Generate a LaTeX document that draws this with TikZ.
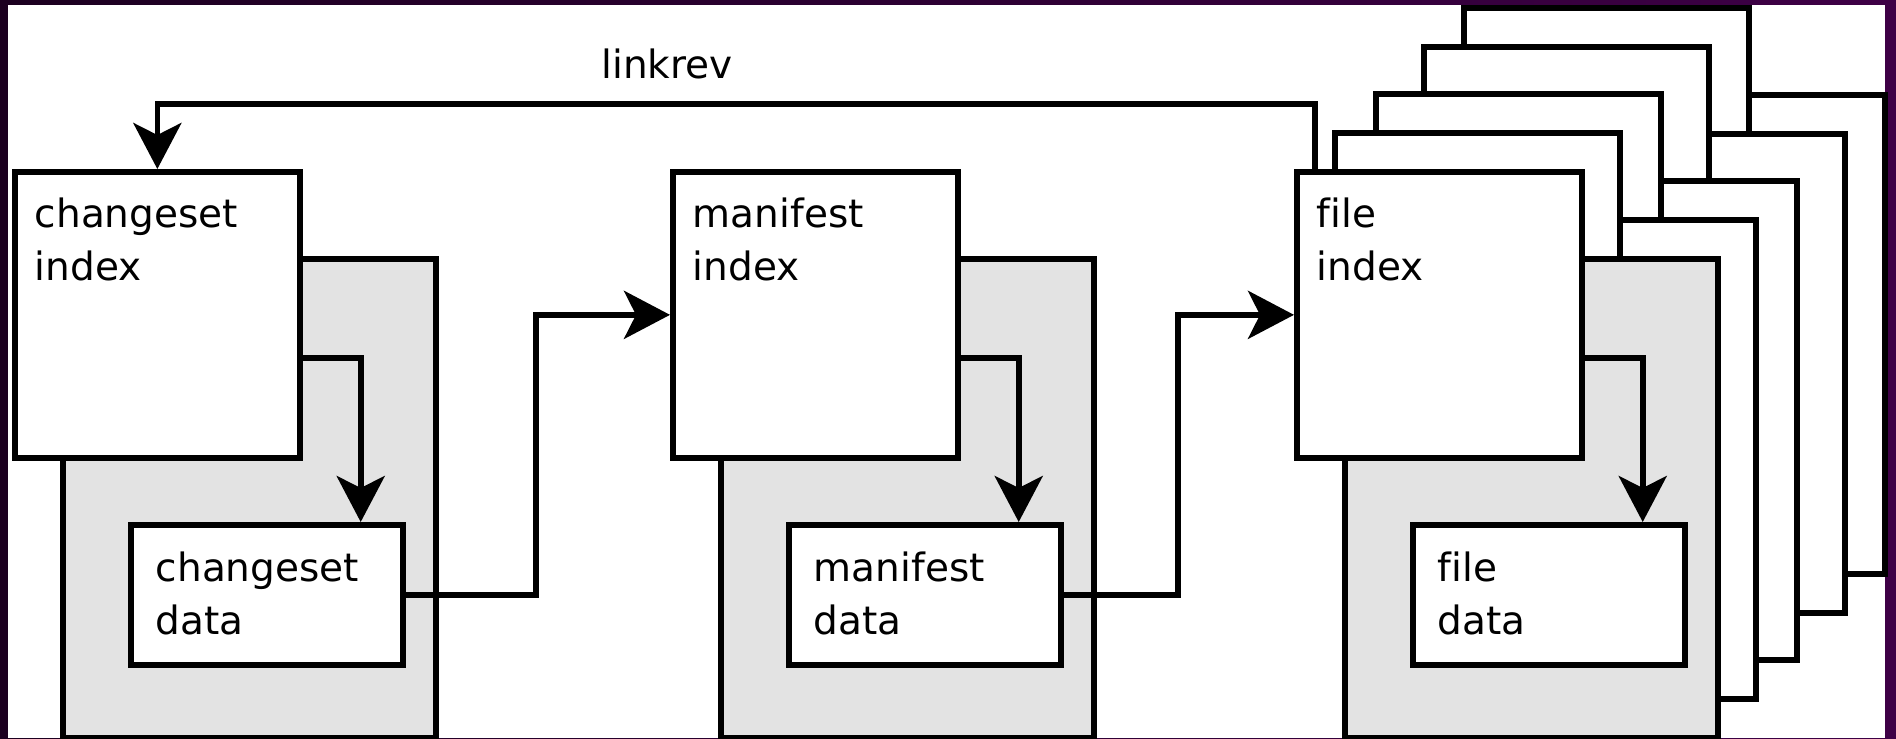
\documentclass[tikz,border=0pt]{standalone}
\usepackage{fontspec}
\setmainfont{DejaVu Sans}[Ligatures=NoCommon]
\usetikzlibrary{arrows.meta, calc}

\definecolor{blockgrey}{RGB}{227,227,227}
\definecolor{framedark}{RGB}{28,0,32}
\definecolor{frameright}{RGB}{62,0,70}
\definecolor{framepurple}{RGB}{140,12,140}

\begin{document}
\begin{tikzpicture}[x=0.5bp, y=-0.5bp, line width=2.85bp,
  font=\fontsize{19.5bp}{26.5bp}\selectfont,
  revlog/.style={draw, fill=blockgrey, inner sep=0pt, anchor=north west,
    minimum width=186.5bp, minimum height=239.5bp},
  idxbox/.style={draw, fill=white, inner sep=0pt, anchor=north west,
    minimum width=142.5bp, minimum height=143bp},
  datbox/.style={draw, fill=white, inner sep=0pt, anchor=north west,
    minimum width=136bp, minimum height=70bp},
  boxtext/.style={anchor=north west, inner sep=0pt, align=left},
  flow/.style={-{Stealth[length=23bp, width=24bp, inset=6bp]}}]
  \useasboundingbox (0,0) rectangle (1896,738);

  %--- slide background ---
  \shade[left color=framedark, right color=frameright] (0,0) rectangle (1896,738);
  \shade[left color=framedark, middle color=framepurple, right color=frameright]
    (0,0) rectangle (1896,5);
  \fill[white] (8,5) rectangle (1885,738);

  %--- the other file revlogs, stacked behind ---
  \foreach \dx/\dy in {170/-161, 130/-122, 82/-75, 41/-36}{
    \begin{scope}[shift={(1294+\dx,\dy)}]
      \filldraw[fill=white] (48,256) rectangle (421,735);
      \filldraw[fill=white] (0,169) rectangle (285,455);
    \end{scope}
  }

  %--- changeset ---
  \begin{scope}[shift={(12,0)}]
    \node[revlog] (crev) at (48,256) {};
    \node[idxbox] (cidx) at (0,169) {};
    \node[datbox] (cdat) at (116,522) {};
    \node[boxtext] (cidxtxt) at ($(cidx.north west)+(20,26)$) {changeset\\index};
    \node[boxtext] (cdattxt) at ($(cdat.north west)+(25,27)$) {changeset\\data};
    \draw[flow] ($(cidx.east)+(0,43)$) -| ($(cdat.north east)+(-45,0)$);
  \end{scope}

  %--- manifest ---
  \begin{scope}[shift={(670,0)}]
    \node[revlog] (mrev) at (48,256) {};
    \node[idxbox] (midx) at (0,169) {};
    \node[datbox] (mdat) at (116,522) {};
    \node[boxtext] (midxtxt) at ($(midx.north west)+(20,26)$) {manifest\\index};
    \node[boxtext] (mdattxt) at ($(mdat.north west)+(25,27)$) {manifest\\data};
    \draw[flow] ($(midx.east)+(0,43)$) -| ($(mdat.north east)+(-45,0)$);
  \end{scope}

  %--- file ---
  \begin{scope}[shift={(1294,0)}]
    \node[revlog] (frev) at (48,256) {};
    \node[idxbox] (fidx) at (0,169) {};
    \node[datbox] (fdat) at (116,522) {};
    \node[boxtext] (fidxtxt) at ($(fidx.north west)+(20,26)$) {file\\index};
    \node[boxtext] (fdattxt) at ($(fdat.north west)+(25,27)$) {file\\data};
    \draw[flow] ($(fidx.east)+(0,43)$) -| ($(fdat.north east)+(-45,0)$);
  \end{scope}

  %--- links between revlogs ---
  \draw[flow] (cdat.east) -- ++(130,0) |- (midx.west);
  \draw[flow] (mdat.east) -- ++(114,0) |- (fidx.west);
  \draw[flow] ($(fidx.north west)+(21,0)$) |- ($(cidx.north)+(0,-65)$) -- (cidx.north);
  \node[anchor=base] (lrlabel) at (667,78) {linkrev};
\end{tikzpicture}
\end{document}
